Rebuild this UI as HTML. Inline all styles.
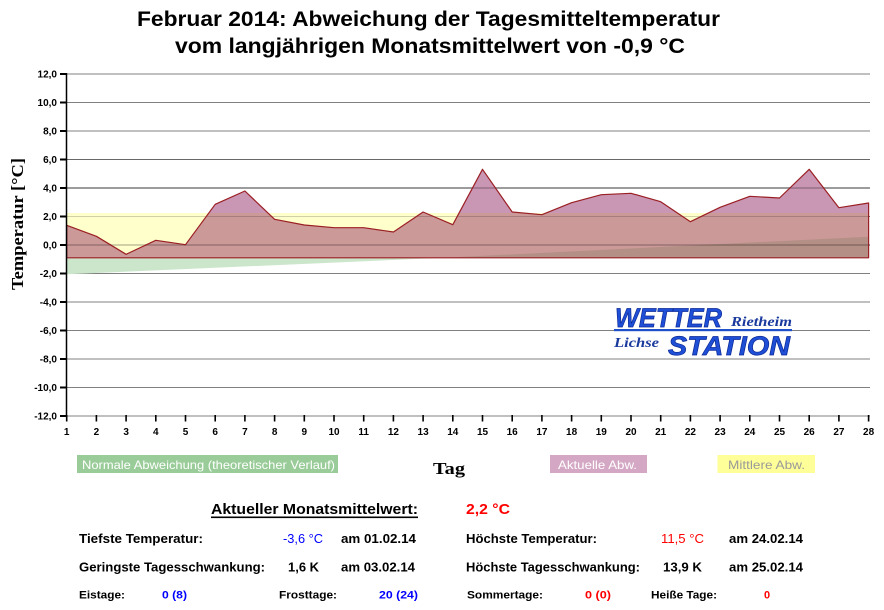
<!DOCTYPE html>
<html><head><meta charset="utf-8"><style>
html,body{margin:0;padding:0;background:#fff;}
svg{display:block;}
text{font-family:"Liberation Sans",Arial,sans-serif;}
.serif{font-family:"Liberation Serif","Times New Roman",serif;}
</style></head><body>
<svg width="884" height="610" viewBox="0 0 884 610" xmlns="http://www.w3.org/2000/svg">
<rect width="884" height="610" fill="#fff"/>
<!-- Title -->
<text x="428.5" y="26" font-size="21" font-weight="bold" text-anchor="middle" textLength="583" lengthAdjust="spacingAndGlyphs">Februar 2014: Abweichung der Tagesmitteltemperatur</text>
<text x="430" y="53" font-size="21" font-weight="bold" text-anchor="middle" textLength="510" lengthAdjust="spacingAndGlyphs">vom langjährigen Monatsmittelwert von -0,9 °C</text>

<defs>
<clipPath id="yel"><rect x="60" y="213" width="820" height="50"/></clipPath>
</defs>

<!-- gridlines (under) -->
<g>
<line x1="66" x2="870" y1="74" y2="74" stroke="#c0c0c0" stroke-width="2"/>
<line x1="66" x2="870" y1="102.5" y2="102.5" stroke="#808080" stroke-width="1"/>
<line x1="66" x2="870" y1="131" y2="131" stroke="#c0c0c0" stroke-width="2"/>
<line x1="66" x2="870" y1="159.5" y2="159.5" stroke="#808080" stroke-width="1"/>
<line x1="66" x2="870" y1="188" y2="188" stroke="#c0c0c0" stroke-width="2"/>
<line x1="66" x2="870" y1="216.5" y2="216.5" stroke="#808080" stroke-width="1"/>
<line x1="66" x2="870" y1="245" y2="245" stroke="#c0c0c0" stroke-width="2"/>
<line x1="66" x2="870" y1="273.5" y2="273.5" stroke="#808080" stroke-width="1"/>
<line x1="66" x2="870" y1="302" y2="302" stroke="#c0c0c0" stroke-width="2"/>
<line x1="66" x2="870" y1="330.5" y2="330.5" stroke="#808080" stroke-width="1"/>
<line x1="66" x2="870" y1="359" y2="359" stroke="#c0c0c0" stroke-width="2"/>
<line x1="66" x2="870" y1="387.5" y2="387.5" stroke="#808080" stroke-width="1"/>
<line x1="66" x2="870" y1="416" y2="416" stroke="#c0c0c0" stroke-width="2"/>
</g>

<!-- yellow band -->
<rect x="66.7" y="213" width="801.9" height="44.8" fill="#ffffcc"/>
<!-- green area -->
<polygon points="66.7,257.8 66.7,274.3 443,257.8" fill="#cce6cc"/>

<!-- pink area -->
<polygon points="66.7,225.3 96.4,236.3 126.1,254.3 155.8,240.3 185.5,244.7 215.2,204.3 244.9,191 274.6,219.3 304.3,225 334,227.7 363.7,227.7 393.4,232 423.1,212 452.8,224.7 482.5,169.3 512.2,212 541.9,214.7 571.6,202.7 601.3,194.7 631,193.3 660.7,201.7 690.4,221.7 720.1,207.3 749.8,196.3 779.5,198 809.2,169.3 838.9,207.7 868.6,203 868.6,257.8 66.7,257.8" fill="#c996b3"/>
<g clip-path="url(#yel)">
<polygon points="66.7,225.3 96.4,236.3 126.1,254.3 155.8,240.3 185.5,244.7 215.2,204.3 244.9,191 274.6,219.3 304.3,225 334,227.7 363.7,227.7 393.4,232 423.1,212 452.8,224.7 482.5,169.3 512.2,212 541.9,214.7 571.6,202.7 601.3,194.7 631,193.3 660.7,201.7 690.4,221.7 720.1,207.3 749.8,196.3 779.5,198 809.2,169.3 838.9,207.7 868.6,203 868.6,257.8 66.7,257.8" fill="#cc9999"/>
</g>
<!-- overlap green+pink -->
<polygon points="443,257.8 868.6,236.7 868.6,257.8" fill="#b48f86"/>

<!-- gridlines (over, faint) -->
<g opacity="0.18">
<line x1="66" x2="870" y1="188" y2="188" stroke="#000" stroke-width="2"/>
<line x1="66" x2="870" y1="216.5" y2="216.5" stroke="#000" stroke-width="1"/>
<line x1="66" x2="870" y1="245" y2="245" stroke="#000" stroke-width="2"/>
<line x1="66" x2="870" y1="159.5" y2="159.5" stroke="#000" stroke-width="1"/>
</g>

<!-- outline of pink area -->
<polygon points="66.7,225.3 96.4,236.3 126.1,254.3 155.8,240.3 185.5,244.7 215.2,204.3 244.9,191 274.6,219.3 304.3,225 334,227.7 363.7,227.7 393.4,232 423.1,212 452.8,224.7 482.5,169.3 512.2,212 541.9,214.7 571.6,202.7 601.3,194.7 631,193.3 660.7,201.7 690.4,221.7 720.1,207.3 749.8,196.3 779.5,198 809.2,169.3 838.9,207.7 868.6,203 868.6,257.8 66.7,257.8" fill="none" stroke="#9a1f24" stroke-width="1.2" stroke-linejoin="round"/>

<!-- axes -->
<line x1="66.5" y1="73" x2="66.5" y2="417" stroke="#000" stroke-width="1.5"/>
<g stroke="#000" stroke-width="2">
<line x1="60" x2="66" y1="74" y2="74"/><line x1="60" x2="66" y1="102.5" y2="102.5"/>
<line x1="60" x2="66" y1="131" y2="131"/><line x1="60" x2="66" y1="159.5" y2="159.5"/>
<line x1="60" x2="66" y1="188" y2="188"/><line x1="60" x2="66" y1="216.5" y2="216.5"/>
<line x1="60" x2="66" y1="245" y2="245"/><line x1="60" x2="66" y1="273.5" y2="273.5"/>
<line x1="60" x2="66" y1="302" y2="302"/><line x1="60" x2="66" y1="330.5" y2="330.5"/>
<line x1="60" x2="66" y1="359" y2="359"/><line x1="60" x2="66" y1="387.5" y2="387.5"/>
<line x1="60" x2="66" y1="416" y2="416"/>
</g>
<g font-size="10" font-weight="bold" text-anchor="end">
<text x="57" y="77.5">12,0</text><text x="57" y="106">10,0</text>
<text x="57" y="134.5">8,0</text><text x="57" y="163">6,0</text>
<text x="57" y="191.5">4,0</text><text x="57" y="220">2,0</text>
<text x="57" y="248.5">0,0</text><text x="57" y="277">-2,0</text>
<text x="57" y="305.5">-4,0</text><text x="57" y="334">-6,0</text>
<text x="57" y="362.5">-8,0</text><text x="57" y="391">-10,0</text>
<text x="57" y="419.5">-12,0</text>
</g>
<!-- x ticks -->
<g stroke="#000" stroke-width="1.6">
<line x1="66.7" x2="66.7" y1="415" y2="421.5"/><line x1="96.4" x2="96.4" y1="415" y2="421.5"/>
<line x1="126.1" x2="126.1" y1="415" y2="421.5"/><line x1="155.8" x2="155.8" y1="415" y2="421.5"/>
<line x1="185.5" x2="185.5" y1="415" y2="421.5"/><line x1="215.2" x2="215.2" y1="415" y2="421.5"/>
<line x1="244.9" x2="244.9" y1="415" y2="421.5"/><line x1="274.6" x2="274.6" y1="415" y2="421.5"/>
<line x1="304.3" x2="304.3" y1="415" y2="421.5"/><line x1="334" x2="334" y1="415" y2="421.5"/>
<line x1="363.7" x2="363.7" y1="415" y2="421.5"/><line x1="393.4" x2="393.4" y1="415" y2="421.5"/>
<line x1="423.1" x2="423.1" y1="415" y2="421.5"/><line x1="452.8" x2="452.8" y1="415" y2="421.5"/>
<line x1="482.5" x2="482.5" y1="415" y2="421.5"/><line x1="512.2" x2="512.2" y1="415" y2="421.5"/>
<line x1="541.9" x2="541.9" y1="415" y2="421.5"/><line x1="571.6" x2="571.6" y1="415" y2="421.5"/>
<line x1="601.3" x2="601.3" y1="415" y2="421.5"/><line x1="631" x2="631" y1="415" y2="421.5"/>
<line x1="660.7" x2="660.7" y1="415" y2="421.5"/><line x1="690.4" x2="690.4" y1="415" y2="421.5"/>
<line x1="720.1" x2="720.1" y1="415" y2="421.5"/><line x1="749.8" x2="749.8" y1="415" y2="421.5"/>
<line x1="779.5" x2="779.5" y1="415" y2="421.5"/><line x1="809.2" x2="809.2" y1="415" y2="421.5"/>
<line x1="838.9" x2="838.9" y1="415" y2="421.5"/><line x1="868.6" x2="868.6" y1="415" y2="421.5"/>
</g>
<g font-size="10" font-weight="bold" text-anchor="middle">
<text x="66.7" y="435">1</text><text x="96.4" y="435">2</text><text x="126.1" y="435">3</text>
<text x="155.8" y="435">4</text><text x="185.5" y="435">5</text><text x="215.2" y="435">6</text>
<text x="244.9" y="435">7</text><text x="274.6" y="435">8</text><text x="304.3" y="435">9</text>
<text x="334" y="435">10</text><text x="363.7" y="435">11</text><text x="393.4" y="435">12</text>
<text x="423.1" y="435">13</text><text x="452.8" y="435">14</text><text x="482.5" y="435">15</text>
<text x="512.2" y="435">16</text><text x="541.9" y="435">17</text><text x="571.6" y="435">18</text>
<text x="601.3" y="435">19</text><text x="631" y="435">20</text><text x="660.7" y="435">21</text>
<text x="690.4" y="435">22</text><text x="720.1" y="435">23</text><text x="749.8" y="435">24</text>
<text x="779.5" y="435">25</text><text x="809.2" y="435">26</text><text x="838.9" y="435">27</text>
<text x="868.6" y="435">28</text>
</g>

<!-- y axis title -->
<text class="serif" transform="translate(23,224) rotate(-90)" font-size="17" font-weight="bold" text-anchor="middle" textLength="132" lengthAdjust="spacingAndGlyphs">Temperatur [°C]</text>

<!-- logo -->
<g font-style="italic" font-weight="bold">
<text x="615" y="327" font-size="27" fill="#1f4fd6" stroke="#0c2a96" stroke-width="0.7" textLength="107" lengthAdjust="spacingAndGlyphs">WETTER</text>
<text class="serif" x="731" y="326" font-size="14" fill="#1a3a9e" textLength="61" lengthAdjust="spacingAndGlyphs">Rietheim</text>
<rect x="614" y="329" width="178" height="2.2" fill="#2050c8"/>
<text class="serif" x="614" y="347" font-size="14" fill="#1a3a9e" textLength="45" lengthAdjust="spacingAndGlyphs">Lichse</text>
<text x="668" y="355" font-size="27" fill="#1f4fd6" stroke="#0c2a96" stroke-width="0.7" textLength="122" lengthAdjust="spacingAndGlyphs">STATION</text>
</g>

<!-- legend -->
<rect x="77" y="455" width="261" height="18" fill="#99cc99"/>
<text x="82" y="469" font-size="12" fill="#fff" textLength="253" lengthAdjust="spacingAndGlyphs">Normale Abweichung (theoretischer Verlauf)</text>
<text class="serif" x="433" y="474" font-size="17" font-weight="bold" textLength="32" lengthAdjust="spacingAndGlyphs">Tag</text>
<rect x="550" y="455" width="97" height="18" fill="#d4a8c4"/>
<text x="558" y="469" font-size="12" fill="#fff" textLength="79" lengthAdjust="spacingAndGlyphs">Aktuelle Abw.</text>
<rect x="717.5" y="455" width="97.5" height="18" fill="#ffff99"/>
<text x="728" y="469" font-size="12" fill="#999" textLength="77" lengthAdjust="spacingAndGlyphs">Mittlere Abw.</text>

<!-- stats -->
<text x="211" y="514" font-size="15" font-weight="bold" textLength="207" lengthAdjust="spacingAndGlyphs">Aktueller Monatsmittelwert:</text>
<rect x="211" y="516.5" width="207" height="1.6" fill="#000"/>
<text x="466" y="514" font-size="15" font-weight="bold" fill="#ff0000" textLength="44" lengthAdjust="spacingAndGlyphs">2,2 °C</text>

<g font-size="13" font-weight="bold">
<text x="79" y="543" textLength="124" lengthAdjust="spacingAndGlyphs">Tiefste Temperatur:</text>
<text x="283" y="543" fill="#0000ff" font-weight="normal" textLength="40" lengthAdjust="spacingAndGlyphs">-3,6 °C</text>
<text x="341" y="543" textLength="75" lengthAdjust="spacingAndGlyphs">am 01.02.14</text>
<text x="466" y="543" textLength="131" lengthAdjust="spacingAndGlyphs">Höchste Temperatur:</text>
<text x="661" y="543" fill="#ff0000" font-weight="normal" textLength="43" lengthAdjust="spacingAndGlyphs">11,5 °C</text>
<text x="729" y="543" textLength="74" lengthAdjust="spacingAndGlyphs">am 24.02.14</text>

<text x="79" y="571.5" textLength="186" lengthAdjust="spacingAndGlyphs">Geringste Tagesschwankung:</text>
<text x="288" y="571.5" textLength="31" lengthAdjust="spacingAndGlyphs">1,6 K</text>
<text x="341" y="571.5" textLength="74" lengthAdjust="spacingAndGlyphs">am 03.02.14</text>
<text x="466" y="571.5" textLength="174" lengthAdjust="spacingAndGlyphs">Höchste Tagesschwankung:</text>
<text x="663" y="571.5" textLength="39" lengthAdjust="spacingAndGlyphs">13,9 K</text>
<text x="729" y="571.5" textLength="74" lengthAdjust="spacingAndGlyphs">am 25.02.14</text>
</g>
<g font-size="11" font-weight="bold">
<text x="79" y="598.5" textLength="46" lengthAdjust="spacingAndGlyphs">Eistage:</text>
<text x="162" y="598.5" fill="#0000ff" textLength="25" lengthAdjust="spacingAndGlyphs">0 (8)</text>
<text x="279" y="598.5" textLength="58" lengthAdjust="spacingAndGlyphs">Frosttage:</text>
<text x="379" y="598.5" fill="#0000ff" textLength="39" lengthAdjust="spacingAndGlyphs">20 (24)</text>
<text x="467" y="598.5" textLength="76" lengthAdjust="spacingAndGlyphs">Sommertage:</text>
<text x="585" y="598.5" fill="#ff0000" textLength="26" lengthAdjust="spacingAndGlyphs">0 (0)</text>
<text x="651" y="598.5" textLength="66" lengthAdjust="spacingAndGlyphs">Heiße Tage:</text>
<text x="764" y="598.5" fill="#ff0000">0</text>
</g>
</svg>
</body></html>
